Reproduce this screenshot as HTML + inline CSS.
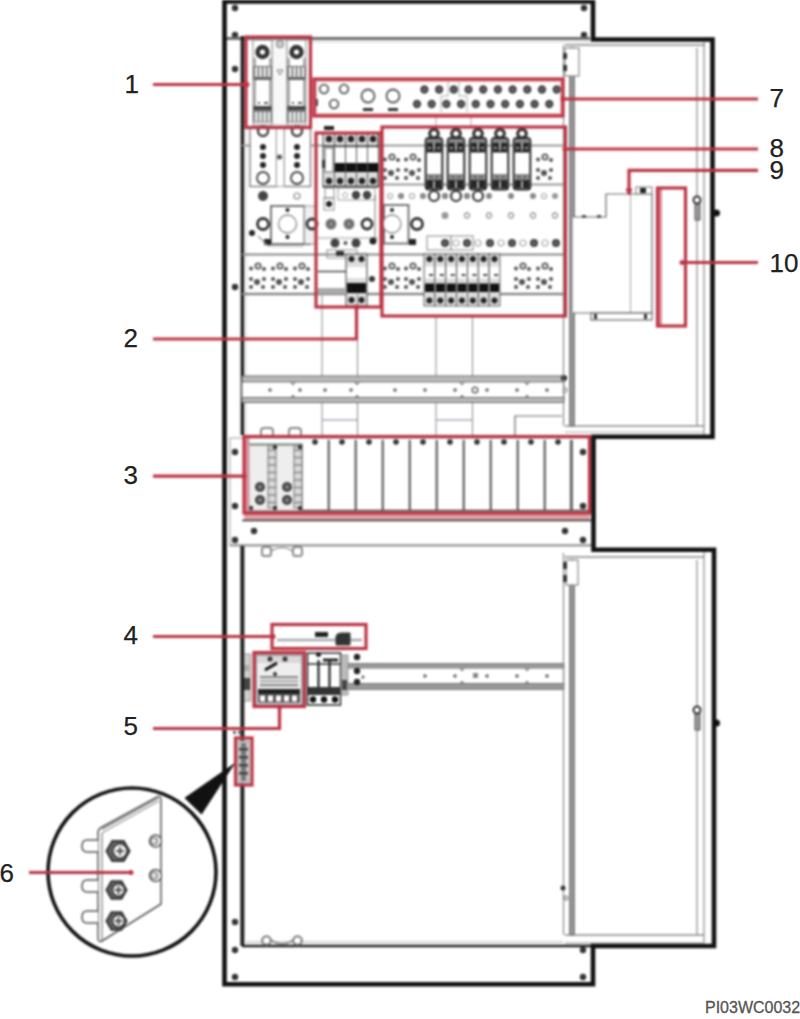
<!DOCTYPE html>
<html><head><meta charset="utf-8">
<style>
html,body{margin:0;padding:0;background:#fff;width:800px;height:1019px;overflow:hidden;position:relative}
#w{position:relative;width:800px;height:1019px;filter:blur(1px)}
svg{display:block}
text{font-family:"Liberation Sans",sans-serif}
</style></head><body><div id="w">
<svg width="800" height="1019" viewBox="0 0 800 1019">

<circle cx="235" cy="8" r="3.2" fill="#333" stroke="none" stroke-width="1"/>
<circle cx="235" cy="35" r="3.2" fill="#333" stroke="none" stroke-width="1"/>
<circle cx="584" cy="8" r="3.2" fill="#333" stroke="none" stroke-width="1"/>
<circle cx="584" cy="35" r="3.2" fill="#333" stroke="none" stroke-width="1"/>
<circle cx="235" cy="69" r="3.2" fill="#333" stroke="none" stroke-width="1"/>
<circle cx="235" cy="287" r="3.2" fill="#333" stroke="none" stroke-width="1"/>
<circle cx="235" cy="452" r="3.2" fill="#333" stroke="none" stroke-width="1"/>
<circle cx="235" cy="506" r="3.2" fill="#333" stroke="none" stroke-width="1"/>
<circle cx="235" cy="540" r="3.2" fill="#333" stroke="none" stroke-width="1"/>
<circle cx="583" cy="452" r="3.2" fill="#333" stroke="none" stroke-width="1"/>
<circle cx="583" cy="506" r="3.2" fill="#333" stroke="none" stroke-width="1"/>
<circle cx="583" cy="540" r="3.2" fill="#333" stroke="none" stroke-width="1"/>
<circle cx="565" cy="531" r="3.2" fill="#333" stroke="none" stroke-width="1"/>
<circle cx="254" cy="531" r="3.2" fill="#333" stroke="none" stroke-width="1"/>
<circle cx="235" cy="922" r="3.2" fill="#333" stroke="none" stroke-width="1"/>
<circle cx="235" cy="950" r="3.2" fill="#333" stroke="none" stroke-width="1"/>
<circle cx="235" cy="977" r="3.2" fill="#333" stroke="none" stroke-width="1"/>
<circle cx="583" cy="950" r="3.2" fill="#333" stroke="none" stroke-width="1"/>
<circle cx="583" cy="977" r="3.2" fill="#333" stroke="none" stroke-width="1"/>
<line x1="225" y1="38.5" x2="590" y2="38.5" stroke="#6e6e6e" stroke-width="3"/>
<line x1="250" y1="42" x2="590" y2="42" stroke="#ddd" stroke-width="1.5"/>
<line x1="242.4" y1="36" x2="242.4" y2="435" stroke="#222" stroke-width="3.6"/>
<line x1="246.5" y1="38" x2="246.5" y2="435" stroke="#ddd" stroke-width="1"/>
<line x1="242" y1="254.5" x2="565" y2="254.5" stroke="#888" stroke-width="2"/>
<line x1="242" y1="294" x2="565" y2="294" stroke="#888" stroke-width="2.5"/>
<circle cx="251" cy="268.5" r="2" fill="#555" stroke="none" stroke-width="1"/>
<circle cx="258" cy="266" r="2.6" fill="#fff" stroke="#555" stroke-width="1.8"/>
<circle cx="264" cy="269" r="2" fill="#555" stroke="none" stroke-width="1"/>
<circle cx="251" cy="279" r="2" fill="#555" stroke="none" stroke-width="1"/>
<circle cx="264" cy="279" r="2" fill="#555" stroke="none" stroke-width="1"/>
<circle cx="257" cy="282" r="3" fill="#555" stroke="none" stroke-width="1"/>
<circle cx="251" cy="287" r="2" fill="#555" stroke="none" stroke-width="1"/>
<circle cx="263" cy="287" r="2" fill="#555" stroke="none" stroke-width="1"/>
<circle cx="273" cy="268.5" r="2" fill="#555" stroke="none" stroke-width="1"/>
<circle cx="280" cy="266" r="2.6" fill="#fff" stroke="#555" stroke-width="1.8"/>
<circle cx="286" cy="269" r="2" fill="#555" stroke="none" stroke-width="1"/>
<circle cx="273" cy="279" r="2" fill="#555" stroke="none" stroke-width="1"/>
<circle cx="286" cy="279" r="2" fill="#555" stroke="none" stroke-width="1"/>
<circle cx="279" cy="282" r="3" fill="#555" stroke="none" stroke-width="1"/>
<circle cx="273" cy="287" r="2" fill="#555" stroke="none" stroke-width="1"/>
<circle cx="285" cy="287" r="2" fill="#555" stroke="none" stroke-width="1"/>
<circle cx="295" cy="268.5" r="2" fill="#555" stroke="none" stroke-width="1"/>
<circle cx="302" cy="266" r="2.6" fill="#fff" stroke="#555" stroke-width="1.8"/>
<circle cx="308" cy="269" r="2" fill="#555" stroke="none" stroke-width="1"/>
<circle cx="295" cy="279" r="2" fill="#555" stroke="none" stroke-width="1"/>
<circle cx="308" cy="279" r="2" fill="#555" stroke="none" stroke-width="1"/>
<circle cx="301" cy="282" r="3" fill="#555" stroke="none" stroke-width="1"/>
<circle cx="295" cy="287" r="2" fill="#555" stroke="none" stroke-width="1"/>
<circle cx="307" cy="287" r="2" fill="#555" stroke="none" stroke-width="1"/>
<circle cx="385" cy="268.5" r="2" fill="#555" stroke="none" stroke-width="1"/>
<circle cx="392" cy="266" r="2.6" fill="#fff" stroke="#555" stroke-width="1.8"/>
<circle cx="398" cy="269" r="2" fill="#555" stroke="none" stroke-width="1"/>
<circle cx="385" cy="279" r="2" fill="#555" stroke="none" stroke-width="1"/>
<circle cx="398" cy="279" r="2" fill="#555" stroke="none" stroke-width="1"/>
<circle cx="391" cy="282" r="3" fill="#555" stroke="none" stroke-width="1"/>
<circle cx="385" cy="287" r="2" fill="#555" stroke="none" stroke-width="1"/>
<circle cx="397" cy="287" r="2" fill="#555" stroke="none" stroke-width="1"/>
<circle cx="406" cy="268.5" r="2" fill="#555" stroke="none" stroke-width="1"/>
<circle cx="413" cy="266" r="2.6" fill="#fff" stroke="#555" stroke-width="1.8"/>
<circle cx="419" cy="269" r="2" fill="#555" stroke="none" stroke-width="1"/>
<circle cx="406" cy="279" r="2" fill="#555" stroke="none" stroke-width="1"/>
<circle cx="419" cy="279" r="2" fill="#555" stroke="none" stroke-width="1"/>
<circle cx="412" cy="282" r="3" fill="#555" stroke="none" stroke-width="1"/>
<circle cx="406" cy="287" r="2" fill="#555" stroke="none" stroke-width="1"/>
<circle cx="418" cy="287" r="2" fill="#555" stroke="none" stroke-width="1"/>
<circle cx="516" cy="268.5" r="2" fill="#555" stroke="none" stroke-width="1"/>
<circle cx="523" cy="266" r="2.6" fill="#fff" stroke="#555" stroke-width="1.8"/>
<circle cx="529" cy="269" r="2" fill="#555" stroke="none" stroke-width="1"/>
<circle cx="516" cy="279" r="2" fill="#555" stroke="none" stroke-width="1"/>
<circle cx="529" cy="279" r="2" fill="#555" stroke="none" stroke-width="1"/>
<circle cx="522" cy="282" r="3" fill="#555" stroke="none" stroke-width="1"/>
<circle cx="516" cy="287" r="2" fill="#555" stroke="none" stroke-width="1"/>
<circle cx="528" cy="287" r="2" fill="#555" stroke="none" stroke-width="1"/>
<circle cx="538" cy="268.5" r="2" fill="#555" stroke="none" stroke-width="1"/>
<circle cx="545" cy="266" r="2.6" fill="#fff" stroke="#555" stroke-width="1.8"/>
<circle cx="551" cy="269" r="2" fill="#555" stroke="none" stroke-width="1"/>
<circle cx="538" cy="279" r="2" fill="#555" stroke="none" stroke-width="1"/>
<circle cx="551" cy="279" r="2" fill="#555" stroke="none" stroke-width="1"/>
<circle cx="544" cy="282" r="3" fill="#555" stroke="none" stroke-width="1"/>
<circle cx="538" cy="287" r="2" fill="#555" stroke="none" stroke-width="1"/>
<circle cx="550" cy="287" r="2" fill="#555" stroke="none" stroke-width="1"/>
<line x1="242" y1="145.5" x2="565" y2="145.5" stroke="#999" stroke-width="2"/>
<line x1="382" y1="184.5" x2="565" y2="184.5" stroke="#999" stroke-width="2"/>
<circle cx="385" cy="159.5" r="2" fill="#555" stroke="none" stroke-width="1"/>
<circle cx="392" cy="157" r="2.6" fill="#fff" stroke="#555" stroke-width="1.8"/>
<circle cx="398" cy="160" r="2" fill="#555" stroke="none" stroke-width="1"/>
<circle cx="385" cy="170" r="2" fill="#555" stroke="none" stroke-width="1"/>
<circle cx="398" cy="170" r="2" fill="#555" stroke="none" stroke-width="1"/>
<circle cx="391" cy="173" r="3" fill="#555" stroke="none" stroke-width="1"/>
<circle cx="385" cy="178" r="2" fill="#555" stroke="none" stroke-width="1"/>
<circle cx="397" cy="178" r="2" fill="#555" stroke="none" stroke-width="1"/>
<circle cx="406" cy="159.5" r="2" fill="#555" stroke="none" stroke-width="1"/>
<circle cx="413" cy="157" r="2.6" fill="#fff" stroke="#555" stroke-width="1.8"/>
<circle cx="419" cy="160" r="2" fill="#555" stroke="none" stroke-width="1"/>
<circle cx="406" cy="170" r="2" fill="#555" stroke="none" stroke-width="1"/>
<circle cx="419" cy="170" r="2" fill="#555" stroke="none" stroke-width="1"/>
<circle cx="412" cy="173" r="3" fill="#555" stroke="none" stroke-width="1"/>
<circle cx="406" cy="178" r="2" fill="#555" stroke="none" stroke-width="1"/>
<circle cx="418" cy="178" r="2" fill="#555" stroke="none" stroke-width="1"/>
<circle cx="538" cy="159.5" r="2" fill="#555" stroke="none" stroke-width="1"/>
<circle cx="545" cy="157" r="2.6" fill="#fff" stroke="#555" stroke-width="1.8"/>
<circle cx="551" cy="160" r="2" fill="#555" stroke="none" stroke-width="1"/>
<circle cx="538" cy="170" r="2" fill="#555" stroke="none" stroke-width="1"/>
<circle cx="551" cy="170" r="2" fill="#555" stroke="none" stroke-width="1"/>
<circle cx="544" cy="173" r="3" fill="#555" stroke="none" stroke-width="1"/>
<circle cx="538" cy="178" r="2" fill="#555" stroke="none" stroke-width="1"/>
<circle cx="550" cy="178" r="2" fill="#555" stroke="none" stroke-width="1"/>
<rect x="250" y="128" width="26.5" height="58.5" fill="#fff" stroke="#888" stroke-width="1.5" />
<rect x="284" y="128" width="26.5" height="58.5" fill="#fff" stroke="#888" stroke-width="1.5" />
<rect x="276.5" y="128" width="7.5" height="58.5" fill="#fff" stroke="#aaa" stroke-width="1" />
<circle cx="279.5" cy="157" r="2.5" fill="#555" stroke="none" stroke-width="1"/>
<circle cx="263" cy="131" r="5" fill="#fff" stroke="#444" stroke-width="2.5"/>
<circle cx="263" cy="147" r="3" fill="#222" stroke="none" stroke-width="1"/>
<circle cx="263" cy="156" r="3" fill="#222" stroke="none" stroke-width="1"/>
<circle cx="263" cy="165" r="3" fill="#222" stroke="none" stroke-width="1"/>
<circle cx="263" cy="178" r="6" fill="#fff" stroke="#444" stroke-width="1.8"/>
<circle cx="297" cy="131" r="5" fill="#fff" stroke="#444" stroke-width="2.5"/>
<circle cx="297" cy="147" r="3" fill="#222" stroke="none" stroke-width="1"/>
<circle cx="297" cy="156" r="3" fill="#222" stroke="none" stroke-width="1"/>
<circle cx="297" cy="165" r="3" fill="#222" stroke="none" stroke-width="1"/>
<circle cx="297" cy="178" r="6" fill="#fff" stroke="#444" stroke-width="1.8"/>
<circle cx="263" cy="196" r="5" fill="#444" stroke="none" stroke-width="1"/>
<circle cx="297" cy="196" r="3" fill="#fff" stroke="#888" stroke-width="1.2"/>
<rect x="271" y="206" width="33.5" height="38" fill="#fff" stroke="#777" stroke-width="2" />
<circle cx="287.5" cy="224" r="9" fill="#fff" stroke="#888" stroke-width="1.3"/>
<circle cx="287.5" cy="210" r="2" fill="#222" stroke="none" stroke-width="1"/>
<circle cx="287.5" cy="237" r="2" fill="#222" stroke="none" stroke-width="1"/>
<circle cx="263" cy="224" r="5.5" fill="#fff" stroke="#333" stroke-width="2.8"/>
<circle cx="252" cy="233" r="3" fill="#222" stroke="none" stroke-width="1"/>
<rect x="264" y="239" width="7" height="6" fill="#222" stroke="none" stroke-width="1" />
<rect x="304" y="239" width="7" height="6" fill="#222" stroke="none" stroke-width="1" />
<path d="M258,236 L268,246 H304" fill="none" stroke="#999" stroke-width="1.2"/>
<rect x="304.5" y="206" width="11.5" height="38" fill="#f0f0f0" stroke="#999" stroke-width="1" />
<circle cx="312" cy="224" r="5" fill="#fff" stroke="#333" stroke-width="2.8"/>
<rect x="384" y="205" width="24.5" height="38.5" fill="#fff" stroke="#777" stroke-width="2" />
<circle cx="392" cy="224" r="9" fill="#fff" stroke="#888" stroke-width="1.3"/>
<circle cx="392" cy="210" r="2" fill="#222" stroke="none" stroke-width="1"/>
<circle cx="392" cy="237" r="2" fill="#222" stroke="none" stroke-width="1"/>
<circle cx="417" cy="224" r="5.5" fill="#fff" stroke="#333" stroke-width="2.8"/>
<rect x="409" y="239" width="7" height="6" fill="#222" stroke="none" stroke-width="1" />
<rect x="272" y="40" width="15" height="85" fill="#f8f8f8" stroke="#bbb" stroke-width="1" />
<rect x="253" y="40" width="19" height="85" fill="#fff" stroke="#999" stroke-width="1.2" />
<rect x="253" y="58" width="3" height="64" fill="#aaa" stroke="none" stroke-width="1" />
<rect x="269" y="58" width="3" height="64" fill="#aaa" stroke="none" stroke-width="1" />
<circle cx="262.5" cy="52" r="4.9" fill="#fff" stroke="#333" stroke-width="4.6"/>
<rect x="253.5" y="66" width="18" height="14" fill="#666" stroke="none" stroke-width="1" />
<rect x="255.0" y="67" width="2.6" height="10" fill="#f4f4f4" stroke="none" stroke-width="1" />
<rect x="259.2" y="67" width="2.6" height="10" fill="#f4f4f4" stroke="none" stroke-width="1" />
<rect x="263.4" y="67" width="2.6" height="10" fill="#f4f4f4" stroke="none" stroke-width="1" />
<rect x="267.6" y="67" width="2.6" height="10" fill="#f4f4f4" stroke="none" stroke-width="1" />
<rect x="256" y="82" width="13" height="19" fill="#fff" stroke="none" stroke-width="1" />
<circle cx="259" cy="103" r="1.1" fill="#333" stroke="none" stroke-width="1"/>
<circle cx="265" cy="103" r="1.1" fill="#333" stroke="none" stroke-width="1"/>
<circle cx="267" cy="103" r="1.1" fill="#333" stroke="none" stroke-width="1"/>
<rect x="253.5" y="106" width="18" height="4.5" fill="#444" stroke="none" stroke-width="1" />
<rect x="253.5" y="110.5" width="18" height="12" fill="#777" stroke="none" stroke-width="1" />
<rect x="255.0" y="112" width="2.6" height="9.5" fill="#f4f4f4" stroke="none" stroke-width="1" />
<rect x="259.2" y="112" width="2.6" height="9.5" fill="#f4f4f4" stroke="none" stroke-width="1" />
<rect x="263.4" y="112" width="2.6" height="9.5" fill="#f4f4f4" stroke="none" stroke-width="1" />
<rect x="267.6" y="112" width="2.6" height="9.5" fill="#f4f4f4" stroke="none" stroke-width="1" />
<rect x="287" y="40" width="19" height="85" fill="#fff" stroke="#999" stroke-width="1.2" />
<rect x="287" y="58" width="3" height="64" fill="#aaa" stroke="none" stroke-width="1" />
<rect x="303" y="58" width="3" height="64" fill="#aaa" stroke="none" stroke-width="1" />
<circle cx="296.5" cy="52" r="4.9" fill="#fff" stroke="#333" stroke-width="4.6"/>
<rect x="287.5" y="66" width="18" height="14" fill="#666" stroke="none" stroke-width="1" />
<rect x="289.0" y="67" width="2.6" height="10" fill="#f4f4f4" stroke="none" stroke-width="1" />
<rect x="293.2" y="67" width="2.6" height="10" fill="#f4f4f4" stroke="none" stroke-width="1" />
<rect x="297.4" y="67" width="2.6" height="10" fill="#f4f4f4" stroke="none" stroke-width="1" />
<rect x="301.6" y="67" width="2.6" height="10" fill="#f4f4f4" stroke="none" stroke-width="1" />
<rect x="290" y="82" width="13" height="19" fill="#fff" stroke="none" stroke-width="1" />
<circle cx="293" cy="103" r="1.1" fill="#333" stroke="none" stroke-width="1"/>
<circle cx="299" cy="103" r="1.1" fill="#333" stroke="none" stroke-width="1"/>
<circle cx="301" cy="103" r="1.1" fill="#333" stroke="none" stroke-width="1"/>
<rect x="287.5" y="106" width="18" height="4.5" fill="#444" stroke="none" stroke-width="1" />
<rect x="287.5" y="110.5" width="18" height="12" fill="#777" stroke="none" stroke-width="1" />
<rect x="289.0" y="112" width="2.6" height="9.5" fill="#f4f4f4" stroke="none" stroke-width="1" />
<rect x="293.2" y="112" width="2.6" height="9.5" fill="#f4f4f4" stroke="none" stroke-width="1" />
<rect x="297.4" y="112" width="2.6" height="9.5" fill="#f4f4f4" stroke="none" stroke-width="1" />
<rect x="301.6" y="112" width="2.6" height="9.5" fill="#f4f4f4" stroke="none" stroke-width="1" />
<circle cx="280" cy="44" r="3.5" fill="#ccc" stroke="#888" stroke-width="1.2"/>
<path d="M277,70 L280,75 L283,70 Z" fill="none" stroke="#777" stroke-width="1"/>
<rect x="315" y="80" width="247" height="35" fill="none" stroke="#eab0b0" stroke-width="4" />
<circle cx="324" cy="89" r="4.3" fill="#fff" stroke="#555" stroke-width="1.8"/>
<circle cx="344" cy="89" r="4.3" fill="#fff" stroke="#555" stroke-width="1.8"/>
<circle cx="334" cy="104" r="4.3" fill="#fff" stroke="#555" stroke-width="1.8"/>
<circle cx="368" cy="96" r="6.5" fill="#fff" stroke="#555" stroke-width="1.8"/>
<rect x="363" y="108" width="10" height="3" fill="#333" stroke="none" stroke-width="1" />
<circle cx="393" cy="96" r="6.5" fill="#fff" stroke="#555" stroke-width="1.8"/>
<rect x="388" y="108" width="10" height="3" fill="#333" stroke="none" stroke-width="1" />
<rect x="316" y="99" width="2" height="7" fill="#444" stroke="none" stroke-width="1" />
<path d="M448,82 V96 H441 V112 M459,82 V96 H467 V112" fill="none" stroke="#aaa" stroke-width="1"/>
<path d="M436,116 V126 M471,116 V126" fill="none" stroke="#c99" stroke-width="1"/>
<circle cx="424.4" cy="89.5" r="4.2" fill="#4a4a4a" stroke="none" stroke-width="1"/>
<circle cx="424.4" cy="89.5" r="1.8" fill="#666" stroke="none" stroke-width="1"/>
<circle cx="439.09999999999997" cy="89.5" r="4.2" fill="#4a4a4a" stroke="none" stroke-width="1"/>
<circle cx="439.09999999999997" cy="89.5" r="1.8" fill="#666" stroke="none" stroke-width="1"/>
<circle cx="453.79999999999995" cy="89.5" r="4.2" fill="#4a4a4a" stroke="none" stroke-width="1"/>
<circle cx="453.79999999999995" cy="89.5" r="1.8" fill="#666" stroke="none" stroke-width="1"/>
<circle cx="468.5" cy="89.5" r="4.2" fill="#4a4a4a" stroke="none" stroke-width="1"/>
<circle cx="468.5" cy="89.5" r="1.8" fill="#666" stroke="none" stroke-width="1"/>
<circle cx="483.2" cy="89.5" r="4.2" fill="#4a4a4a" stroke="none" stroke-width="1"/>
<circle cx="483.2" cy="89.5" r="1.8" fill="#666" stroke="none" stroke-width="1"/>
<circle cx="497.9" cy="89.5" r="4.2" fill="#4a4a4a" stroke="none" stroke-width="1"/>
<circle cx="497.9" cy="89.5" r="1.8" fill="#666" stroke="none" stroke-width="1"/>
<circle cx="512.5999999999999" cy="89.5" r="4.2" fill="#4a4a4a" stroke="none" stroke-width="1"/>
<circle cx="512.5999999999999" cy="89.5" r="1.8" fill="#666" stroke="none" stroke-width="1"/>
<circle cx="527.3" cy="89.5" r="4.2" fill="#4a4a4a" stroke="none" stroke-width="1"/>
<circle cx="527.3" cy="89.5" r="1.8" fill="#666" stroke="none" stroke-width="1"/>
<circle cx="542.0" cy="89.5" r="4.2" fill="#4a4a4a" stroke="none" stroke-width="1"/>
<circle cx="542.0" cy="89.5" r="1.8" fill="#666" stroke="none" stroke-width="1"/>
<circle cx="556.6999999999999" cy="89.5" r="4.2" fill="#4a4a4a" stroke="none" stroke-width="1"/>
<circle cx="556.6999999999999" cy="89.5" r="1.8" fill="#666" stroke="none" stroke-width="1"/>
<circle cx="417.0" cy="104" r="4.2" fill="#4a4a4a" stroke="none" stroke-width="1"/>
<circle cx="417.0" cy="104" r="1.8" fill="#666" stroke="none" stroke-width="1"/>
<circle cx="431.7" cy="104" r="4.2" fill="#4a4a4a" stroke="none" stroke-width="1"/>
<circle cx="431.7" cy="104" r="1.8" fill="#666" stroke="none" stroke-width="1"/>
<circle cx="446.4" cy="104" r="4.2" fill="#4a4a4a" stroke="none" stroke-width="1"/>
<circle cx="446.4" cy="104" r="1.8" fill="#666" stroke="none" stroke-width="1"/>
<circle cx="461.1" cy="104" r="4.2" fill="#4a4a4a" stroke="none" stroke-width="1"/>
<circle cx="461.1" cy="104" r="1.8" fill="#666" stroke="none" stroke-width="1"/>
<circle cx="475.8" cy="104" r="4.2" fill="#4a4a4a" stroke="none" stroke-width="1"/>
<circle cx="475.8" cy="104" r="1.8" fill="#666" stroke="none" stroke-width="1"/>
<circle cx="490.5" cy="104" r="4.2" fill="#4a4a4a" stroke="none" stroke-width="1"/>
<circle cx="490.5" cy="104" r="1.8" fill="#666" stroke="none" stroke-width="1"/>
<circle cx="505.2" cy="104" r="4.2" fill="#4a4a4a" stroke="none" stroke-width="1"/>
<circle cx="505.2" cy="104" r="1.8" fill="#666" stroke="none" stroke-width="1"/>
<circle cx="519.9" cy="104" r="4.2" fill="#4a4a4a" stroke="none" stroke-width="1"/>
<circle cx="519.9" cy="104" r="1.8" fill="#666" stroke="none" stroke-width="1"/>
<circle cx="534.6" cy="104" r="4.2" fill="#4a4a4a" stroke="none" stroke-width="1"/>
<circle cx="534.6" cy="104" r="1.8" fill="#666" stroke="none" stroke-width="1"/>
<circle cx="549.3" cy="104" r="4.2" fill="#4a4a4a" stroke="none" stroke-width="1"/>
<circle cx="549.3" cy="104" r="1.8" fill="#666" stroke="none" stroke-width="1"/>
<circle cx="434" cy="133.6" r="4.3" fill="#fff" stroke="#333" stroke-width="3.2"/>
<rect x="425.7" y="138" width="16.6" height="51.5" fill="#fff" stroke="#2a2a2a" stroke-width="2" rx="3"/>
<rect x="426.7" y="139" width="14.6" height="3.5" fill="#888" stroke="none" stroke-width="1" />
<rect x="426.7" y="142.5" width="14.6" height="10" fill="#262626" stroke="none" stroke-width="1" />
<rect x="433.2" y="142.5" width="1.6" height="8" fill="#ccc" stroke="none" stroke-width="1" />
<rect x="428" y="147" width="3" height="2" fill="#999" stroke="none" stroke-width="1" />
<rect x="437" y="147" width="3" height="2" fill="#999" stroke="none" stroke-width="1" />
<rect x="426.7" y="174" width="14.6" height="6" fill="#8a8a8a" stroke="none" stroke-width="1" />
<rect x="430" y="176" width="2" height="2" fill="#555" stroke="none" stroke-width="1" />
<rect x="436" y="176" width="2" height="2" fill="#555" stroke="none" stroke-width="1" />
<rect x="426.7" y="180" width="14.6" height="8.5" fill="#262626" stroke="none" stroke-width="1" />
<rect x="433.2" y="181" width="1.6" height="7" fill="#ccc" stroke="none" stroke-width="1" />
<circle cx="456" cy="133.6" r="4.3" fill="#fff" stroke="#333" stroke-width="3.2"/>
<rect x="447.7" y="138" width="16.6" height="51.5" fill="#fff" stroke="#2a2a2a" stroke-width="2" rx="3"/>
<rect x="448.7" y="139" width="14.6" height="3.5" fill="#888" stroke="none" stroke-width="1" />
<rect x="448.7" y="142.5" width="14.6" height="10" fill="#262626" stroke="none" stroke-width="1" />
<rect x="455.2" y="142.5" width="1.6" height="8" fill="#ccc" stroke="none" stroke-width="1" />
<rect x="450" y="147" width="3" height="2" fill="#999" stroke="none" stroke-width="1" />
<rect x="459" y="147" width="3" height="2" fill="#999" stroke="none" stroke-width="1" />
<rect x="448.7" y="174" width="14.6" height="6" fill="#8a8a8a" stroke="none" stroke-width="1" />
<rect x="452" y="176" width="2" height="2" fill="#555" stroke="none" stroke-width="1" />
<rect x="458" y="176" width="2" height="2" fill="#555" stroke="none" stroke-width="1" />
<rect x="448.7" y="180" width="14.6" height="8.5" fill="#262626" stroke="none" stroke-width="1" />
<rect x="455.2" y="181" width="1.6" height="7" fill="#ccc" stroke="none" stroke-width="1" />
<circle cx="478" cy="133.6" r="4.3" fill="#fff" stroke="#333" stroke-width="3.2"/>
<rect x="469.7" y="138" width="16.6" height="51.5" fill="#fff" stroke="#2a2a2a" stroke-width="2" rx="3"/>
<rect x="470.7" y="139" width="14.6" height="3.5" fill="#888" stroke="none" stroke-width="1" />
<rect x="470.7" y="142.5" width="14.6" height="10" fill="#262626" stroke="none" stroke-width="1" />
<rect x="477.2" y="142.5" width="1.6" height="8" fill="#ccc" stroke="none" stroke-width="1" />
<rect x="472" y="147" width="3" height="2" fill="#999" stroke="none" stroke-width="1" />
<rect x="481" y="147" width="3" height="2" fill="#999" stroke="none" stroke-width="1" />
<rect x="470.7" y="174" width="14.6" height="6" fill="#8a8a8a" stroke="none" stroke-width="1" />
<rect x="474" y="176" width="2" height="2" fill="#555" stroke="none" stroke-width="1" />
<rect x="480" y="176" width="2" height="2" fill="#555" stroke="none" stroke-width="1" />
<rect x="470.7" y="180" width="14.6" height="8.5" fill="#262626" stroke="none" stroke-width="1" />
<rect x="477.2" y="181" width="1.6" height="7" fill="#ccc" stroke="none" stroke-width="1" />
<circle cx="500" cy="133.6" r="4.3" fill="#fff" stroke="#333" stroke-width="3.2"/>
<rect x="491.7" y="138" width="16.6" height="51.5" fill="#fff" stroke="#2a2a2a" stroke-width="2" rx="3"/>
<rect x="492.7" y="139" width="14.6" height="3.5" fill="#888" stroke="none" stroke-width="1" />
<rect x="492.7" y="142.5" width="14.6" height="10" fill="#262626" stroke="none" stroke-width="1" />
<rect x="499.2" y="142.5" width="1.6" height="8" fill="#ccc" stroke="none" stroke-width="1" />
<rect x="494" y="147" width="3" height="2" fill="#999" stroke="none" stroke-width="1" />
<rect x="503" y="147" width="3" height="2" fill="#999" stroke="none" stroke-width="1" />
<rect x="492.7" y="174" width="14.6" height="6" fill="#8a8a8a" stroke="none" stroke-width="1" />
<rect x="496" y="176" width="2" height="2" fill="#555" stroke="none" stroke-width="1" />
<rect x="502" y="176" width="2" height="2" fill="#555" stroke="none" stroke-width="1" />
<rect x="492.7" y="180" width="14.6" height="8.5" fill="#262626" stroke="none" stroke-width="1" />
<rect x="499.2" y="181" width="1.6" height="7" fill="#ccc" stroke="none" stroke-width="1" />
<circle cx="522" cy="133.6" r="4.3" fill="#fff" stroke="#333" stroke-width="3.2"/>
<rect x="513.7" y="138" width="16.6" height="51.5" fill="#fff" stroke="#2a2a2a" stroke-width="2" rx="3"/>
<rect x="514.7" y="139" width="14.6" height="3.5" fill="#888" stroke="none" stroke-width="1" />
<rect x="514.7" y="142.5" width="14.6" height="10" fill="#262626" stroke="none" stroke-width="1" />
<rect x="521.2" y="142.5" width="1.6" height="8" fill="#ccc" stroke="none" stroke-width="1" />
<rect x="516" y="147" width="3" height="2" fill="#999" stroke="none" stroke-width="1" />
<rect x="525" y="147" width="3" height="2" fill="#999" stroke="none" stroke-width="1" />
<rect x="514.7" y="174" width="14.6" height="6" fill="#8a8a8a" stroke="none" stroke-width="1" />
<rect x="518" y="176" width="2" height="2" fill="#555" stroke="none" stroke-width="1" />
<rect x="524" y="176" width="2" height="2" fill="#555" stroke="none" stroke-width="1" />
<rect x="514.7" y="180" width="14.6" height="8.5" fill="#262626" stroke="none" stroke-width="1" />
<rect x="521.2" y="181" width="1.6" height="7" fill="#ccc" stroke="none" stroke-width="1" />
<circle cx="390" cy="196" r="2.5" fill="#fff" stroke="#aaa" stroke-width="1.2"/>
<circle cx="401" cy="196" r="3" fill="#888" stroke="none" stroke-width="1"/>
<circle cx="412" cy="196" r="2.5" fill="#fff" stroke="#aaa" stroke-width="1.2"/>
<circle cx="423" cy="196" r="3" fill="#888" stroke="none" stroke-width="1"/>
<circle cx="434" cy="196" r="5" fill="#fff" stroke="#333" stroke-width="2.2"/>
<circle cx="445" cy="196" r="3" fill="#888" stroke="none" stroke-width="1"/>
<circle cx="456" cy="196" r="5" fill="#fff" stroke="#333" stroke-width="2.2"/>
<circle cx="467" cy="196" r="3" fill="#888" stroke="none" stroke-width="1"/>
<circle cx="478" cy="196" r="5" fill="#fff" stroke="#333" stroke-width="2.2"/>
<circle cx="445" cy="196" r="3" fill="#888" stroke="none" stroke-width="1"/>
<circle cx="467" cy="196" r="3" fill="#888" stroke="none" stroke-width="1"/>
<circle cx="489" cy="196" r="3" fill="#888" stroke="none" stroke-width="1"/>
<circle cx="511" cy="196" r="3" fill="#888" stroke="none" stroke-width="1"/>
<circle cx="533" cy="196" r="3" fill="#888" stroke="none" stroke-width="1"/>
<circle cx="544" cy="196" r="2.5" fill="#fff" stroke="#aaa" stroke-width="1.2"/>
<circle cx="555" cy="196" r="3" fill="#999" stroke="none" stroke-width="1"/>
<circle cx="445" cy="215.5" r="3.5" fill="#999" stroke="none" stroke-width="1"/>
<circle cx="467" cy="215.5" r="2.5" fill="#fff" stroke="#999" stroke-width="1.3"/>
<circle cx="489" cy="215.5" r="2.5" fill="#fff" stroke="#999" stroke-width="1.3"/>
<circle cx="511" cy="215.5" r="2.5" fill="#fff" stroke="#999" stroke-width="1.3"/>
<circle cx="533" cy="215.5" r="2.5" fill="#fff" stroke="#999" stroke-width="1.3"/>
<circle cx="555" cy="215.5" r="2.5" fill="#fff" stroke="#999" stroke-width="1.3"/>
<rect x="427" y="236" width="24" height="14" fill="#fff" stroke="#999" stroke-width="1.2" />
<rect x="451" y="236" width="22" height="14" fill="#fff" stroke="#999" stroke-width="1.2" />
<circle cx="445" cy="243" r="4" fill="#444" stroke="none" stroke-width="1"/>
<circle cx="445" cy="243" r="1.5" fill="#777" stroke="none" stroke-width="1"/>
<circle cx="456" cy="243" r="3" fill="#fff" stroke="#aaa" stroke-width="1.2"/>
<circle cx="467" cy="243" r="4" fill="#444" stroke="none" stroke-width="1"/>
<circle cx="467" cy="243" r="1.5" fill="#777" stroke="none" stroke-width="1"/>
<circle cx="478" cy="243" r="3" fill="#fff" stroke="#aaa" stroke-width="1.2"/>
<circle cx="490" cy="243" r="4" fill="#444" stroke="none" stroke-width="1"/>
<circle cx="490" cy="243" r="1.5" fill="#777" stroke="none" stroke-width="1"/>
<circle cx="501" cy="243" r="3" fill="#fff" stroke="#aaa" stroke-width="1.2"/>
<circle cx="512" cy="243" r="4" fill="#444" stroke="none" stroke-width="1"/>
<circle cx="512" cy="243" r="1.5" fill="#777" stroke="none" stroke-width="1"/>
<circle cx="523" cy="243" r="3" fill="#fff" stroke="#aaa" stroke-width="1.2"/>
<circle cx="534" cy="243" r="4" fill="#444" stroke="none" stroke-width="1"/>
<circle cx="534" cy="243" r="1.5" fill="#777" stroke="none" stroke-width="1"/>
<circle cx="545" cy="243" r="3" fill="#fff" stroke="#aaa" stroke-width="1.2"/>
<circle cx="556" cy="243" r="4" fill="#444" stroke="none" stroke-width="1"/>
<circle cx="556" cy="243" r="1.5" fill="#777" stroke="none" stroke-width="1"/>
<rect x="424.0" y="254" width="10.85" height="52" fill="#ddd" stroke="#444" stroke-width="0.8" />
<circle cx="429.4" cy="259" r="3" fill="#222" stroke="none" stroke-width="1"/>
<rect x="425.0" y="266.5" width="9" height="12" fill="#fff" stroke="none" stroke-width="1" />
<rect x="425.0" y="283.5" width="9" height="8.5" fill="#111" stroke="none" stroke-width="1" />
<circle cx="429.4" cy="300.4" r="3" fill="#222" stroke="none" stroke-width="1"/>
<rect x="429.0" y="274" width="4" height="2" fill="#444" stroke="none" stroke-width="1" />
<rect x="434.85" y="254" width="10.85" height="52" fill="#ddd" stroke="#444" stroke-width="0.8" />
<circle cx="440.25" cy="259" r="3" fill="#222" stroke="none" stroke-width="1"/>
<rect x="435.85" y="266.5" width="9" height="12" fill="#fff" stroke="none" stroke-width="1" />
<rect x="435.85" y="283.5" width="9" height="8.5" fill="#111" stroke="none" stroke-width="1" />
<circle cx="440.25" cy="300.4" r="3" fill="#222" stroke="none" stroke-width="1"/>
<rect x="439.85" y="274" width="4" height="2" fill="#444" stroke="none" stroke-width="1" />
<rect x="445.7" y="254" width="10.85" height="52" fill="#ddd" stroke="#444" stroke-width="0.8" />
<circle cx="451.09999999999997" cy="259" r="3" fill="#222" stroke="none" stroke-width="1"/>
<rect x="446.7" y="266.5" width="9" height="12" fill="#fff" stroke="none" stroke-width="1" />
<rect x="446.7" y="283.5" width="9" height="8.5" fill="#111" stroke="none" stroke-width="1" />
<circle cx="451.09999999999997" cy="300.4" r="3" fill="#222" stroke="none" stroke-width="1"/>
<rect x="450.7" y="274" width="4" height="2" fill="#444" stroke="none" stroke-width="1" />
<rect x="456.55" y="254" width="10.85" height="52" fill="#ddd" stroke="#444" stroke-width="0.8" />
<circle cx="461.95" cy="259" r="3" fill="#222" stroke="none" stroke-width="1"/>
<rect x="457.55" y="266.5" width="9" height="12" fill="#fff" stroke="none" stroke-width="1" />
<rect x="457.55" y="283.5" width="9" height="8.5" fill="#111" stroke="none" stroke-width="1" />
<circle cx="461.95" cy="300.4" r="3" fill="#222" stroke="none" stroke-width="1"/>
<rect x="461.55" y="274" width="4" height="2" fill="#444" stroke="none" stroke-width="1" />
<rect x="467.4" y="254" width="10.85" height="52" fill="#ddd" stroke="#444" stroke-width="0.8" />
<circle cx="472.79999999999995" cy="259" r="3" fill="#222" stroke="none" stroke-width="1"/>
<rect x="468.4" y="266.5" width="9" height="12" fill="#fff" stroke="none" stroke-width="1" />
<rect x="468.4" y="283.5" width="9" height="8.5" fill="#111" stroke="none" stroke-width="1" />
<circle cx="472.79999999999995" cy="300.4" r="3" fill="#222" stroke="none" stroke-width="1"/>
<rect x="472.4" y="274" width="4" height="2" fill="#444" stroke="none" stroke-width="1" />
<rect x="478.25" y="254" width="10.85" height="52" fill="#ddd" stroke="#444" stroke-width="0.8" />
<circle cx="483.65" cy="259" r="3" fill="#222" stroke="none" stroke-width="1"/>
<rect x="479.25" y="266.5" width="9" height="12" fill="#fff" stroke="none" stroke-width="1" />
<rect x="479.25" y="283.5" width="9" height="8.5" fill="#111" stroke="none" stroke-width="1" />
<circle cx="483.65" cy="300.4" r="3" fill="#222" stroke="none" stroke-width="1"/>
<rect x="483.25" y="274" width="4" height="2" fill="#444" stroke="none" stroke-width="1" />
<rect x="489.1" y="254" width="10.85" height="52" fill="#ddd" stroke="#444" stroke-width="0.8" />
<circle cx="494.5" cy="259" r="3" fill="#222" stroke="none" stroke-width="1"/>
<rect x="490.1" y="266.5" width="9" height="12" fill="#fff" stroke="none" stroke-width="1" />
<rect x="490.1" y="283.5" width="9" height="8.5" fill="#111" stroke="none" stroke-width="1" />
<circle cx="494.5" cy="300.4" r="3" fill="#222" stroke="none" stroke-width="1"/>
<rect x="494.1" y="274" width="4" height="2" fill="#444" stroke="none" stroke-width="1" />
<rect x="323" y="133" width="55" height="54" fill="#ddd" stroke="#444" stroke-width="1" />
<circle cx="329" cy="139" r="3.2" fill="#222" stroke="none" stroke-width="1"/>
<circle cx="329" cy="181" r="3.2" fill="#222" stroke="none" stroke-width="1"/>
<line x1="334.5" y1="133" x2="334.5" y2="187" stroke="#555" stroke-width="1"/>
<circle cx="340" cy="139" r="3.2" fill="#222" stroke="none" stroke-width="1"/>
<circle cx="340" cy="181" r="3.2" fill="#222" stroke="none" stroke-width="1"/>
<rect x="335" y="148" width="10" height="15" fill="#fff" stroke="none" stroke-width="1" />
<rect x="335" y="163" width="10" height="9" fill="#111" stroke="none" stroke-width="1" />
<line x1="345.5" y1="133" x2="345.5" y2="187" stroke="#555" stroke-width="1"/>
<circle cx="351" cy="139" r="3.2" fill="#222" stroke="none" stroke-width="1"/>
<circle cx="351" cy="181" r="3.2" fill="#222" stroke="none" stroke-width="1"/>
<rect x="346" y="148" width="10" height="15" fill="#fff" stroke="none" stroke-width="1" />
<rect x="346" y="163" width="10" height="9" fill="#111" stroke="none" stroke-width="1" />
<line x1="356.5" y1="133" x2="356.5" y2="187" stroke="#555" stroke-width="1"/>
<circle cx="362" cy="139" r="3.2" fill="#222" stroke="none" stroke-width="1"/>
<circle cx="362" cy="181" r="3.2" fill="#222" stroke="none" stroke-width="1"/>
<rect x="357" y="148" width="10" height="15" fill="#fff" stroke="none" stroke-width="1" />
<rect x="357" y="163" width="10" height="9" fill="#111" stroke="none" stroke-width="1" />
<line x1="367.5" y1="133" x2="367.5" y2="187" stroke="#555" stroke-width="1"/>
<circle cx="373" cy="139" r="3.2" fill="#222" stroke="none" stroke-width="1"/>
<circle cx="373" cy="181" r="3.2" fill="#222" stroke="none" stroke-width="1"/>
<rect x="368" y="148" width="10" height="15" fill="#fff" stroke="none" stroke-width="1" />
<rect x="368" y="163" width="10" height="9" fill="#111" stroke="none" stroke-width="1" />
<line x1="378.5" y1="133" x2="378.5" y2="187" stroke="#555" stroke-width="1"/>
<rect x="325" y="148" width="8" height="24" fill="#fff" stroke="#666" stroke-width="1" />
<rect x="322" y="160" width="3" height="8" fill="#333" stroke="none" stroke-width="1" />
<line x1="323" y1="146" x2="378" y2="146" stroke="#333" stroke-width="1.5"/>
<line x1="323" y1="186.5" x2="378" y2="186.5" stroke="#333" stroke-width="1.5"/>
<rect x="324" y="126" width="10" height="4" fill="#222" stroke="none" stroke-width="1" />
<rect x="325" y="188" width="9" height="10" fill="#fff" stroke="#888" stroke-width="1" />
<circle cx="329" cy="204" r="3" fill="#222" stroke="none" stroke-width="1"/>
<rect x="324" y="198" width="10" height="12" fill="none" stroke="#888" stroke-width="1" />
<rect x="338" y="188" width="37" height="12" fill="#fff" stroke="#999" stroke-width="1" />
<circle cx="345" cy="195" r="2.5" fill="#fff" stroke="#aaa" stroke-width="1"/>
<circle cx="356" cy="195" r="4.2" fill="#444" stroke="none" stroke-width="1"/>
<circle cx="367" cy="195" r="4.2" fill="#444" stroke="none" stroke-width="1"/>
<circle cx="331" cy="224" r="5.5" fill="#777" stroke="none" stroke-width="1"/>
<circle cx="331" cy="224" r="2.5" fill="#999" stroke="#555" stroke-width="1"/>
<circle cx="349" cy="224" r="5.5" fill="#777" stroke="none" stroke-width="1"/>
<circle cx="349" cy="224" r="2.5" fill="#999" stroke="#555" stroke-width="1"/>
<circle cx="367" cy="224" r="5" fill="#fff" stroke="#333" stroke-width="2.8"/>
<line x1="375" y1="195" x2="375" y2="238" stroke="#777" stroke-width="1"/>
<line x1="318" y1="238" x2="378" y2="238" stroke="#999" stroke-width="1"/>
<circle cx="335" cy="243" r="4.5" fill="#444" stroke="none" stroke-width="1"/>
<circle cx="356" cy="243" r="4.5" fill="#444" stroke="none" stroke-width="1"/>
<circle cx="345.5" cy="243" r="2" fill="#555" stroke="none" stroke-width="1"/>
<circle cx="373" cy="241" r="3.5" fill="#222" stroke="none" stroke-width="1"/>
<rect x="327" y="250" width="30" height="8" fill="none" stroke="#888" stroke-width="1" />
<rect x="336" y="251" width="8" height="5" fill="#333" stroke="none" stroke-width="1" />
<rect x="346" y="254" width="21" height="52" fill="#ddd" stroke="#444" stroke-width="1" />
<circle cx="351.5" cy="259" r="3" fill="#222" stroke="none" stroke-width="1"/>
<circle cx="351.5" cy="300" r="3" fill="#222" stroke="none" stroke-width="1"/>
<circle cx="361.5" cy="259" r="3" fill="#222" stroke="none" stroke-width="1"/>
<circle cx="361.5" cy="300" r="3" fill="#222" stroke="none" stroke-width="1"/>
<rect x="347" y="267" width="19" height="11" fill="#fff" stroke="none" stroke-width="1" />
<rect x="347" y="283" width="19" height="10" fill="#111" stroke="none" stroke-width="1" />
<line x1="318" y1="271.5" x2="346" y2="271.5" stroke="#444" stroke-width="1.5"/>
<rect x="318" y="288" width="28" height="6" fill="#aaa" stroke="none" stroke-width="1" />
<circle cx="372" cy="279" r="3" fill="#333" stroke="none" stroke-width="1"/>
<line x1="322" y1="294" x2="322" y2="436" stroke="#888" stroke-width="1"/>
<line x1="357.5" y1="294" x2="357.5" y2="436" stroke="#888" stroke-width="1"/>
<line x1="436" y1="316" x2="436" y2="436" stroke="#888" stroke-width="1"/>
<line x1="472.5" y1="316" x2="472.5" y2="436" stroke="#888" stroke-width="1"/>
<line x1="436" y1="420" x2="472" y2="420" stroke="#aab" stroke-width="1.5"/>
<line x1="322" y1="420" x2="357" y2="420" stroke="#aab" stroke-width="1.5"/>
<rect x="242" y="376" width="322" height="6" fill="#bbb" stroke="#666" stroke-width="1" />
<rect x="242" y="382" width="322" height="15.5" fill="#fff" stroke="#888" stroke-width="1" />
<rect x="242" y="397.5" width="322" height="5" fill="#bbb" stroke="#666" stroke-width="1" />
<circle cx="270" cy="390" r="1.8" fill="#666" stroke="none" stroke-width="1"/>
<circle cx="300" cy="390" r="1.8" fill="#666" stroke="none" stroke-width="1"/>
<circle cx="325" cy="390" r="1.8" fill="#666" stroke="none" stroke-width="1"/>
<circle cx="351" cy="390" r="1.8" fill="#666" stroke="none" stroke-width="1"/>
<circle cx="395" cy="390" r="1.8" fill="#666" stroke="none" stroke-width="1"/>
<circle cx="425" cy="390" r="1.8" fill="#666" stroke="none" stroke-width="1"/>
<circle cx="455" cy="390" r="1.8" fill="#666" stroke="none" stroke-width="1"/>
<circle cx="487" cy="390" r="1.8" fill="#666" stroke="none" stroke-width="1"/>
<circle cx="517" cy="390" r="1.8" fill="#666" stroke="none" stroke-width="1"/>
<circle cx="547" cy="390" r="1.8" fill="#666" stroke="none" stroke-width="1"/>
<circle cx="475" cy="390" r="2.8" fill="#fff" stroke="#666" stroke-width="1.5"/>
<path d="M291,382 L293,385 L295,382 M291,398 L293,395 L295,398" fill="none" stroke="#555" stroke-width="1"/>
<path d="M355,382 L357,385 L359,382 M355,398 L357,395 L359,398" fill="none" stroke="#555" stroke-width="1"/>
<path d="M460,382 L462,385 L464,382 M460,398 L462,395 L464,398" fill="none" stroke="#555" stroke-width="1"/>
<path d="M525,382 L527,385 L529,382 M525,398 L527,395 L529,398" fill="none" stroke="#555" stroke-width="1"/>
<circle cx="564" cy="378" r="3" fill="#222" stroke="none" stroke-width="1"/>
<circle cx="565" cy="390" r="2" fill="#fff" stroke="#555" stroke-width="1"/>
<path d="M515,436 V416 H562" fill="none" stroke="#666" stroke-width="1.2"/>
<path d="M261,438 V431 Q261,428 264,428 H270 Q273,428 273,431 V438" fill="none" stroke="#888" stroke-width="2"/>
<path d="M289,438 V431 Q289,428 292,428 H298 Q301,428 301,431 V438" fill="none" stroke="#888" stroke-width="2"/>
<rect x="230" y="438" width="362" height="108" fill="none" stroke="#999" stroke-width="1" />
<rect x="244" y="514" width="346" height="6" fill="#dfa0a4" stroke="none" stroke-width="1" />
<line x1="248" y1="510.5" x2="590" y2="510.5" stroke="#444" stroke-width="1.5"/>
<rect x="248" y="444" width="54" height="67" fill="#eee" stroke="#777" stroke-width="1.4" />
<line x1="249" y1="445" x2="301" y2="445" stroke="#9a9" stroke-width="2"/>
<rect x="268" y="446" width="8" height="62" fill="#d8d8d8" stroke="#888" stroke-width="1.2" />
<line x1="268" y1="450.0" x2="276" y2="450.0" stroke="#777" stroke-width="1.2"/>
<line x1="268" y1="457.5" x2="276" y2="457.5" stroke="#777" stroke-width="1.2"/>
<line x1="268" y1="465.0" x2="276" y2="465.0" stroke="#777" stroke-width="1.2"/>
<line x1="268" y1="472.5" x2="276" y2="472.5" stroke="#777" stroke-width="1.2"/>
<line x1="268" y1="480.0" x2="276" y2="480.0" stroke="#777" stroke-width="1.2"/>
<line x1="268" y1="487.5" x2="276" y2="487.5" stroke="#777" stroke-width="1.2"/>
<line x1="268" y1="495.0" x2="276" y2="495.0" stroke="#777" stroke-width="1.2"/>
<line x1="268" y1="502.5" x2="276" y2="502.5" stroke="#777" stroke-width="1.2"/>
<rect x="294" y="446" width="8" height="62" fill="#d8d8d8" stroke="#888" stroke-width="1.2" />
<line x1="294" y1="450.0" x2="302" y2="450.0" stroke="#777" stroke-width="1.2"/>
<line x1="294" y1="457.5" x2="302" y2="457.5" stroke="#777" stroke-width="1.2"/>
<line x1="294" y1="465.0" x2="302" y2="465.0" stroke="#777" stroke-width="1.2"/>
<line x1="294" y1="472.5" x2="302" y2="472.5" stroke="#777" stroke-width="1.2"/>
<line x1="294" y1="480.0" x2="302" y2="480.0" stroke="#777" stroke-width="1.2"/>
<line x1="294" y1="487.5" x2="302" y2="487.5" stroke="#777" stroke-width="1.2"/>
<line x1="294" y1="495.0" x2="302" y2="495.0" stroke="#777" stroke-width="1.2"/>
<line x1="294" y1="502.5" x2="302" y2="502.5" stroke="#777" stroke-width="1.2"/>
<circle cx="260" cy="487" r="5" fill="#444" stroke="none" stroke-width="1"/>
<circle cx="260" cy="487" r="2.2" fill="#888" stroke="#666" stroke-width="1"/>
<circle cx="260" cy="500" r="5" fill="#444" stroke="none" stroke-width="1"/>
<circle cx="260" cy="500" r="2.2" fill="#888" stroke="#666" stroke-width="1"/>
<circle cx="287" cy="487" r="5" fill="#444" stroke="none" stroke-width="1"/>
<circle cx="287" cy="487" r="2.2" fill="#888" stroke="#666" stroke-width="1"/>
<circle cx="287" cy="500" r="5" fill="#444" stroke="none" stroke-width="1"/>
<circle cx="287" cy="500" r="2.2" fill="#888" stroke="#666" stroke-width="1"/>
<circle cx="275" cy="447" r="2.2" fill="#333" stroke="none" stroke-width="1"/>
<circle cx="300" cy="447" r="2.2" fill="#333" stroke="none" stroke-width="1"/>
<circle cx="275" cy="508" r="2.2" fill="#333" stroke="none" stroke-width="1"/>
<circle cx="300" cy="508" r="2.2" fill="#333" stroke="none" stroke-width="1"/>
<circle cx="251" cy="508" r="2.2" fill="#333" stroke="none" stroke-width="1"/>
<line x1="328.75" y1="440" x2="328.75" y2="510" stroke="#6a6a6a" stroke-width="2.4"/>
<line x1="355.75" y1="440" x2="355.75" y2="510" stroke="#6a6a6a" stroke-width="2.4"/>
<line x1="382.75" y1="440" x2="382.75" y2="510" stroke="#6a6a6a" stroke-width="2.4"/>
<line x1="409.75" y1="440" x2="409.75" y2="510" stroke="#6a6a6a" stroke-width="2.4"/>
<line x1="436.75" y1="440" x2="436.75" y2="510" stroke="#6a6a6a" stroke-width="2.4"/>
<line x1="463.75" y1="440" x2="463.75" y2="510" stroke="#6a6a6a" stroke-width="2.4"/>
<line x1="490.75" y1="440" x2="490.75" y2="510" stroke="#6a6a6a" stroke-width="2.4"/>
<line x1="517.75" y1="440" x2="517.75" y2="510" stroke="#6a6a6a" stroke-width="2.4"/>
<line x1="544.75" y1="440" x2="544.75" y2="510" stroke="#6a6a6a" stroke-width="2.4"/>
<line x1="571.75" y1="440" x2="571.75" y2="510" stroke="#6a6a6a" stroke-width="2.4"/>
<line x1="571" y1="440" x2="571" y2="510" stroke="#6a6a6a" stroke-width="2.4"/>
<circle cx="315" cy="442" r="2.8" fill="#333" stroke="none" stroke-width="1"/>
<circle cx="342" cy="442" r="2.8" fill="#333" stroke="none" stroke-width="1"/>
<circle cx="369" cy="442" r="2.8" fill="#333" stroke="none" stroke-width="1"/>
<circle cx="396" cy="442" r="2.8" fill="#333" stroke="none" stroke-width="1"/>
<circle cx="423" cy="442" r="2.8" fill="#333" stroke="none" stroke-width="1"/>
<circle cx="450" cy="442" r="2.8" fill="#333" stroke="none" stroke-width="1"/>
<circle cx="477" cy="442" r="2.8" fill="#333" stroke="none" stroke-width="1"/>
<circle cx="504" cy="442" r="2.8" fill="#333" stroke="none" stroke-width="1"/>
<circle cx="531" cy="442" r="2.8" fill="#333" stroke="none" stroke-width="1"/>
<circle cx="558" cy="442" r="2.8" fill="#333" stroke="none" stroke-width="1"/>
<line x1="242" y1="520.5" x2="592" y2="520.5" stroke="#333" stroke-width="1.5"/>
<line x1="230" y1="545" x2="592" y2="545" stroke="#888" stroke-width="1.5"/>
<rect x="262" y="547" width="9" height="9" fill="#fff" stroke="#888" stroke-width="2" rx="2.5"/>
<rect x="293" y="547" width="9" height="9" fill="#fff" stroke="#888" stroke-width="2" rx="2.5"/>
<path d="M271,551 Q282,544 293,551" fill="none" stroke="#999" stroke-width="1.5"/>
<path d="M565,45 H705" fill="none" stroke="#888" stroke-width="1.5"/>
<line x1="563.5" y1="45" x2="563.5" y2="426" stroke="#888" stroke-width="1.2"/>
<rect x="570" y="48" width="4" height="378" fill="#aaa" stroke="#444" stroke-width="1.2" />
<line x1="697" y1="48" x2="697" y2="426" stroke="#888" stroke-width="1.2"/>
<line x1="704" y1="42" x2="704" y2="436" stroke="#888" stroke-width="1.2"/>
<line x1="565" y1="426" x2="704" y2="426" stroke="#888" stroke-width="1.5"/>
<line x1="565" y1="432" x2="704" y2="432" stroke="#aaa" stroke-width="1"/>
<rect x="565" y="48" width="14" height="28" fill="#fff" stroke="#888" stroke-width="1.2" />
<rect x="563" y="53" width="4" height="6" fill="#333" stroke="none" stroke-width="1" />
<rect x="563" y="65" width="4" height="6" fill="#333" stroke="none" stroke-width="1" />
<rect x="695" y="203" width="5" height="17" fill="#999" stroke="#555" stroke-width="1" />
<circle cx="697" cy="200" r="3.5" fill="#fff" stroke="#333" stroke-width="2"/>
<circle cx="716.5" cy="213" r="3.5" fill="#111" stroke="none" stroke-width="1"/>
<path d="M573,217 H606 V194 H631 V313 H573" fill="#fff" stroke="#666" stroke-width="1.2"/>
<path d="M631,194 H652 V313 H631" fill="#fff" stroke="#666" stroke-width="1.2"/>
<rect x="636" y="187" width="16" height="7" fill="#fff" stroke="#777" stroke-width="1" />
<rect x="640" y="188" width="6" height="5" fill="#222" stroke="none" stroke-width="1" />
<rect x="591" y="313" width="61" height="7" fill="#fff" stroke="#666" stroke-width="1.2" />
<rect x="594" y="314" width="3" height="5" fill="#333" stroke="none" stroke-width="1" />
<rect x="644" y="314" width="3" height="5" fill="#333" stroke="none" stroke-width="1" />
<rect x="582" y="215" width="4" height="3" fill="#555" stroke="none" stroke-width="1" />
<rect x="597" y="215" width="4" height="3" fill="#555" stroke="none" stroke-width="1" />
<line x1="242.4" y1="546" x2="242.4" y2="946" stroke="#222" stroke-width="3.6"/>
<line x1="246" y1="942" x2="563" y2="942" stroke="#aaa" stroke-width="1"/>
<line x1="242" y1="946" x2="593" y2="946" stroke="#222" stroke-width="2.5"/>
<circle cx="266.5" cy="940.5" r="4.3" fill="#fff" stroke="#777" stroke-width="2"/>
<circle cx="297.5" cy="940.5" r="4.3" fill="#fff" stroke="#777" stroke-width="2"/>
<path d="M271,940 Q282,948 293,940" fill="none" stroke="#888" stroke-width="1.8"/>
<rect x="345" y="663.5" width="219" height="5" fill="#999" stroke="#666" stroke-width="0.8" />
<rect x="345" y="668.5" width="219" height="15" fill="#fff" stroke="#aaa" stroke-width="0.8" />
<rect x="345" y="683.5" width="219" height="6" fill="#999" stroke="#666" stroke-width="0.8" />
<circle cx="425" cy="676" r="1.8" fill="#666" stroke="none" stroke-width="1"/>
<circle cx="455" cy="676" r="1.8" fill="#666" stroke="none" stroke-width="1"/>
<circle cx="487" cy="676" r="1.8" fill="#666" stroke="none" stroke-width="1"/>
<circle cx="517" cy="676" r="1.8" fill="#666" stroke="none" stroke-width="1"/>
<circle cx="547" cy="676" r="1.8" fill="#666" stroke="none" stroke-width="1"/>
<rect x="473" y="673" width="5" height="5" fill="#888" stroke="none" stroke-width="1" />
<path d="M460,668 L462,671 L464,668 M460,684 L462,681 L464,684" fill="none" stroke="#555" stroke-width="1"/>
<path d="M525,668 L527,671 L529,668 M525,684 L527,681 L529,684" fill="none" stroke="#555" stroke-width="1"/>
<line x1="277" y1="640" x2="362" y2="640" stroke="#aaa" stroke-width="2.5"/>
<rect x="315" y="632" width="13" height="5" fill="#222" stroke="none" stroke-width="1" />
<path d="M336,645 V637 Q336,633 342,633 H350 V645 Z" fill="#333" stroke="#333" stroke-width="1"/>
<rect x="256" y="655" width="46" height="50" fill="#eee" stroke="#666" stroke-width="1.2" />
<rect x="257" y="656" width="44" height="7" fill="#d8d8d8" stroke="none" stroke-width="1" />
<circle cx="270" cy="659" r="2.5" fill="#333" stroke="none" stroke-width="1"/>
<circle cx="285" cy="659" r="2.5" fill="#333" stroke="none" stroke-width="1"/>
<path d="M265,670 L277,663" fill="none" stroke="#111" stroke-width="3"/>
<circle cx="275" cy="674" r="2" fill="#333" stroke="none" stroke-width="1"/>
<rect x="260" y="676" width="38" height="2.2" fill="#888" stroke="none" stroke-width="1" />
<rect x="260" y="680" width="38" height="2.2" fill="#aaa" stroke="none" stroke-width="1" />
<rect x="260" y="684" width="38" height="2.2" fill="#888" stroke="none" stroke-width="1" />
<rect x="258" y="689" width="42" height="5" fill="#222" stroke="none" stroke-width="1" />
<rect x="258" y="694" width="42" height="9" fill="#555" stroke="none" stroke-width="1" />
<rect x="260" y="695.5" width="5" height="6" fill="#fff" stroke="none" stroke-width="1" />
<rect x="268" y="695.5" width="5" height="6" fill="#fff" stroke="none" stroke-width="1" />
<rect x="276" y="695.5" width="5" height="6" fill="#fff" stroke="none" stroke-width="1" />
<rect x="284" y="695.5" width="5" height="6" fill="#fff" stroke="none" stroke-width="1" />
<rect x="292" y="695.5" width="5" height="6" fill="#fff" stroke="none" stroke-width="1" />
<rect x="241.5" y="654" width="9" height="47" fill="#d0d0d0" stroke="#999" stroke-width="1" />
<rect x="243" y="665" width="6" height="6" fill="#aaa" stroke="none" stroke-width="1" />
<rect x="242" y="678" width="8" height="12" fill="#444" stroke="none" stroke-width="1" />
<line x1="242.4" y1="546" x2="242.4" y2="946" stroke="#222" stroke-width="3.6"/>
<rect x="307.5" y="653" width="33" height="52" fill="#fff" stroke="#222" stroke-width="1.5" />
<line x1="307.5" y1="664" x2="340.5" y2="664" stroke="#222" stroke-width="1.5"/>
<line x1="318.5" y1="660" x2="318.5" y2="695" stroke="#222" stroke-width="2.2"/>
<line x1="329.5" y1="660" x2="329.5" y2="695" stroke="#222" stroke-width="2.2"/>
<rect x="323" y="658.5" width="15" height="3" fill="#222" stroke="none" stroke-width="1" />
<circle cx="318.5" cy="654.5" r="2.5" fill="#222" stroke="none" stroke-width="1"/>
<rect x="307.5" y="687" width="33" height="8" fill="#333" stroke="none" stroke-width="1" />
<circle cx="313" cy="699.5" r="3.2" fill="#111" stroke="none" stroke-width="1"/>
<circle cx="324" cy="699.5" r="3.2" fill="#111" stroke="none" stroke-width="1"/>
<circle cx="335" cy="699.5" r="3.2" fill="#111" stroke="none" stroke-width="1"/>
<rect x="341" y="655" width="7" height="40" fill="#bbb" stroke="#888" stroke-width="0.8" />
<rect x="342" y="680" width="5" height="10" fill="#444" stroke="none" stroke-width="1" />
<circle cx="357" cy="657" r="3.2" fill="#222" stroke="none" stroke-width="1"/>
<circle cx="357" cy="671" r="3.2" fill="#222" stroke="none" stroke-width="1"/>
<circle cx="357" cy="682" r="3.2" fill="#222" stroke="none" stroke-width="1"/>
<circle cx="363" cy="677" r="1.5" fill="#555" stroke="none" stroke-width="1"/>
<line x1="563.5" y1="553" x2="563.5" y2="935" stroke="#888" stroke-width="1.2"/>
<rect x="570" y="560" width="4" height="375" fill="#aaa" stroke="#444" stroke-width="1.2" />
<line x1="565" y1="557" x2="704" y2="557" stroke="#888" stroke-width="1.5"/>
<line x1="697" y1="560" x2="697" y2="935" stroke="#888" stroke-width="1.2"/>
<line x1="704" y1="552" x2="704" y2="943" stroke="#888" stroke-width="1.2"/>
<line x1="565" y1="935" x2="704" y2="935" stroke="#888" stroke-width="1.5"/>
<line x1="565" y1="943" x2="704" y2="943" stroke="#888" stroke-width="1.2"/>
<rect x="566" y="560" width="12" height="25" fill="#fff" stroke="#888" stroke-width="1.2" />
<rect x="563" y="562" width="4" height="7" fill="#333" stroke="none" stroke-width="1" />
<rect x="563" y="575" width="4" height="7" fill="#333" stroke="none" stroke-width="1" />
<rect x="695" y="713" width="5" height="17" fill="#999" stroke="#555" stroke-width="1" />
<circle cx="697" cy="710" r="3.5" fill="#fff" stroke="#333" stroke-width="2"/>
<circle cx="716.5" cy="723" r="3.5" fill="#111" stroke="none" stroke-width="1"/>
<circle cx="563" cy="888" r="2.5" fill="#333" stroke="none" stroke-width="1"/>
<circle cx="566" cy="898" r="2" fill="#fff" stroke="#555" stroke-width="1"/>
<path d="M224.5,1.5 H593 V39.5 H712.5 V436.8 H593.5 V549.8 H714 V946 H593 V984.3 H224.5 Z" fill="none" stroke="#111" stroke-width="4.6"/>
<rect x="658" y="189" width="4" height="136" fill="#d88a90" stroke="none" stroke-width="1" />
<rect x="245" y="438" width="4.5" height="76" fill="#d4939a" stroke="none" stroke-width="1" />
<rect x="246" y="37" width="64.5" height="90.5" fill="none" stroke="#bb3444" stroke-width="3.2" />
<rect x="314" y="79" width="249" height="37" fill="none" stroke="#bb3444" stroke-width="3.2" />
<rect x="382" y="127" width="183.5" height="189" fill="none" stroke="#bb3444" stroke-width="3.2" />
<rect x="316" y="133" width="65" height="174" fill="none" stroke="#bb3444" stroke-width="3.2" />
<rect x="657.5" y="188" width="28" height="138" fill="none" stroke="#bb3444" stroke-width="3.2" />
<rect x="244" y="436.5" width="345.5" height="76.5" fill="none" stroke="#bb3444" stroke-width="3.2" />
<rect x="272" y="624.5" width="94" height="24" fill="none" stroke="#bb3444" stroke-width="3.2" />
<rect x="254" y="652.5" width="50.5" height="54" fill="none" stroke="#bb3444" stroke-width="3.2" />
<rect x="235.5" y="738" width="16.5" height="47" fill="none" stroke="#bb3444" stroke-width="3.2" />
<path d="M153,84.5 H247" fill="none" stroke="#bb3444" stroke-width="3.2"/>
<path d="M153,339 H356.5 V307" fill="none" stroke="#bb3444" stroke-width="3.2"/>
<path d="M153,476.2 H244" fill="none" stroke="#bb3444" stroke-width="3.2"/>
<path d="M153,636.5 H273" fill="none" stroke="#bb3444" stroke-width="3.2"/>
<path d="M153,728.5 H279.5 V707" fill="none" stroke="#bb3444" stroke-width="3.2"/>
<path d="M563,99 H758" fill="none" stroke="#bb3444" stroke-width="3.2"/>
<path d="M565,149 H758" fill="none" stroke="#bb3444" stroke-width="3.2"/>
<path d="M629,194 V170.3 H758" fill="none" stroke="#bb3444" stroke-width="3.2"/>
<path d="M682,262.5 H758" fill="none" stroke="#bb3444" stroke-width="3.2"/>
<circle cx="247" cy="84.5" r="2.5" fill="#bb3444" stroke="none" stroke-width="1"/>
<circle cx="244" cy="476.2" r="2.5" fill="#bb3444" stroke="none" stroke-width="1"/>
<circle cx="273" cy="636.5" r="2.5" fill="#bb3444" stroke="none" stroke-width="1"/>
<circle cx="563" cy="99" r="2.5" fill="#bb3444" stroke="none" stroke-width="1"/>
<circle cx="565" cy="149" r="2.5" fill="#bb3444" stroke="none" stroke-width="1"/>
<circle cx="682" cy="262.5" r="2.5" fill="#bb3444" stroke="none" stroke-width="1"/>
<circle cx="356.5" cy="307" r="2.5" fill="#bb3444" stroke="none" stroke-width="1"/>
<circle cx="279.5" cy="707" r="2.5" fill="#bb3444" stroke="none" stroke-width="1"/>
<path d="M626,189 L629,195 L632,189 Z" fill="#bb3444" stroke="#bb3444" stroke-width="1"/>
<rect x="238" y="741" width="11" height="42" fill="#c8c8c8" stroke="#999" stroke-width="1" />
<rect x="241" y="743" width="5" height="38" fill="#777" stroke="none" stroke-width="1" />
<rect x="239" y="748" width="9" height="2.5" fill="#444" stroke="none" stroke-width="1" />
<rect x="239" y="756" width="9" height="2.5" fill="#444" stroke="none" stroke-width="1" />
<rect x="239" y="764" width="9" height="2.5" fill="#444" stroke="none" stroke-width="1" />
<rect x="239" y="772" width="9" height="2.5" fill="#444" stroke="none" stroke-width="1" />
<rect x="233" y="731" width="3" height="3" fill="#666" stroke="none" stroke-width="1" />
<rect x="238" y="731" width="3" height="3" fill="#666" stroke="none" stroke-width="1" />
<circle cx="132" cy="872" r="84" fill="#fff" stroke="#111" stroke-width="3.6"/>
<path d="M185,798 L234,764 L201.5,814 Z" fill="#111" stroke="#111" stroke-width="1"/>
<path d="M98,833 Q98,829 102,827 L157,797 Q161,795 161,800 V904 L102,941 Q98,943 98,938 Z" fill="#fff" stroke="#555" stroke-width="1.5"/>
<path d="M102,833 L159,801" fill="none" stroke="#777" stroke-width="1"/>
<path d="M102,829 L158,798" fill="none" stroke="#999" stroke-width="2.5"/>
<line x1="102" y1="833" x2="102" y2="940" stroke="#777" stroke-width="1.2"/>
<path d="M98,840 H87 Q82,840 82,846 Q82,852 87,852 H98" fill="#fff" stroke="#555" stroke-width="1.5"/>
<path d="M98,880 H87 Q82,880 82,886 Q82,892 87,892 H98" fill="#fff" stroke="#555" stroke-width="1.5"/>
<path d="M98,911 H87 Q82,911 82,917 Q82,923 87,923 H98" fill="#fff" stroke="#555" stroke-width="1.5"/>
<polygon points="106.5,851 112.25,840.995 123.75,840.995 129.5,851 123.75,861.005 112.25,861.005" fill="#666" stroke="#333" stroke-width="2"/>
<circle cx="120" cy="851" r="7.13" fill="#eee" stroke="#333" stroke-width="1.5"/>
<path d="M116,851 H124 M120,847 V855" fill="none" stroke="#333" stroke-width="1.5"/>
<polygon points="106.5,890 111.5,881.3 121.5,881.3 126.5,890 121.5,898.7 111.5,898.7" fill="#666" stroke="#333" stroke-width="2"/>
<circle cx="118.5" cy="890" r="6.2" fill="#eee" stroke="#333" stroke-width="1.5"/>
<path d="M114.5,890 H122.5 M118.5,886 V894" fill="none" stroke="#333" stroke-width="1.5"/>
<polygon points="106.5,921 111.5,912.3 121.5,912.3 126.5,921 121.5,929.7 111.5,929.7" fill="#666" stroke="#333" stroke-width="2"/>
<circle cx="118.5" cy="921" r="6.2" fill="#eee" stroke="#333" stroke-width="1.5"/>
<path d="M114.5,921 H122.5 M118.5,917 V925" fill="none" stroke="#333" stroke-width="1.5"/>
<circle cx="155.5" cy="841" r="6" fill="#fff" stroke="#555" stroke-width="1.5"/>
<circle cx="154.0" cy="841" r="3.5" fill="#ddd" stroke="#666" stroke-width="1.2"/>
<circle cx="155.5" cy="875.5" r="6" fill="#fff" stroke="#555" stroke-width="1.5"/>
<circle cx="154.0" cy="875.5" r="3.5" fill="#ddd" stroke="#666" stroke-width="1.2"/>
<path d="M29,872.5 H131" fill="none" stroke="#bb3444" stroke-width="3.2"/>
<circle cx="131" cy="872.5" r="2.5" fill="#bb3444" stroke="none" stroke-width="1"/>
</svg></div>
<svg width="800" height="1019" viewBox="0 0 800 1019" style="position:absolute;left:0;top:0">
<g font-size="26" fill="#222" stroke="#222" stroke-width="0.25">
<text x="124.5" y="93.3">1</text>
<text x="123.5" y="347">2</text>
<text x="123.5" y="483.6">3</text>
<text x="123.5" y="644">4</text>
<text x="123.5" y="735.3">5</text>
<text x="-0.5" y="882">6</text>
<text x="769.5" y="107">7</text>
<text x="769.5" y="156.6">8</text>
<text x="769.5" y="178.9">9</text>
<text x="769.5" y="272.3">10</text>
</g>
<text x="705" y="1013" font-size="16" fill="#555" stroke="#555" stroke-width="0.3">PI03WC0032</text>
</svg>
</body></html>
